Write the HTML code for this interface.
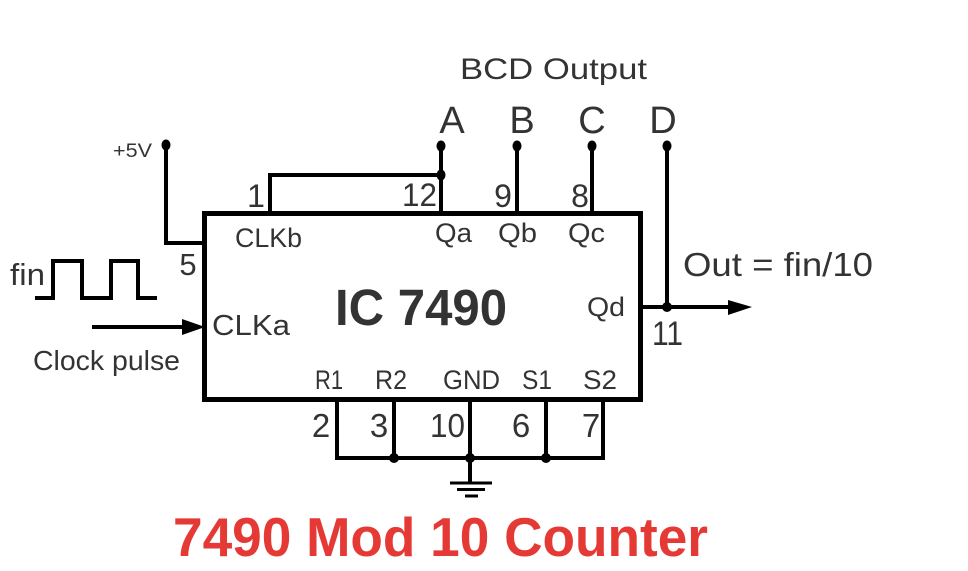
<!DOCTYPE html>
<html>
<head>
<meta charset="utf-8">
<style>
  html,body{margin:0;padding:0;background:#fff;}
  svg{display:block;}
  text{font-family:"Liberation Sans",sans-serif;fill:#333;}
</style>
</head>
<body>
<svg width="968" height="571" viewBox="0 0 968 571" xmlns="http://www.w3.org/2000/svg">
  <rect x="0" y="0" width="968" height="571" fill="#fff"/>

  <!-- IC box -->
  <rect x="204.5" y="213.5" width="436" height="186" fill="#fff" stroke="#000" stroke-width="5"/>

  <g fill="none" stroke="#000" stroke-width="4" stroke-linejoin="miter">
    <!-- +5V to pin 5 -->
    <path d="M166,145 V243 H204"/>
    <!-- pin 1 to Qa -->
    <path d="M270,212 V175 H441"/>
    <path d="M441,146 V212"/>
    <path d="M517,146 V212"/>
    <path d="M592,146 V212"/>
    <!-- D line -->
    <path d="M667,146 V307"/>
    <!-- Qd output -->
    <path d="M641,307 H735"/>
    <!-- CLKa input -->
    <path d="M92,327 H186"/>
    <!-- square wave -->
    <path d="M35,298 H53 V261 H82 V298 H111 V261 H138 V298 H157"/>
    <!-- bottom pins -->
    <path d="M337,400 V458 H603 V400"/>
    <path d="M394,400 V458"/>
    <path d="M470,400 V483"/>
    <path d="M546,400 V458"/>
  </g>

  <!-- ground -->
  <g stroke="#000" stroke-width="3">
    <line x1="450" y1="483" x2="492" y2="483"/>
    <line x1="457" y1="489.5" x2="485" y2="489.5"/>
    <line x1="465" y1="496" x2="478" y2="496"/>
  </g>

  <!-- arrowheads -->
  <polygon points="728,300 752,307 728,315" fill="#000"/>
  <polygon points="182,319 205,327 182,335" fill="#000"/>

  <!-- dots -->
  <g fill="#000">
    <ellipse cx="166" cy="145" rx="4.5" ry="5.5"/>
    <ellipse cx="441" cy="146" rx="4.5" ry="5.5"/>
    <ellipse cx="517" cy="146" rx="4.5" ry="5.5"/>
    <ellipse cx="592" cy="146" rx="4.5" ry="5.5"/>
    <ellipse cx="667" cy="146" rx="4.5" ry="5.5"/>
    <ellipse cx="441" cy="175" rx="4.5" ry="5.5"/>
    <ellipse cx="667" cy="307" rx="5" ry="5"/>
    <ellipse cx="394" cy="458" rx="5" ry="5"/>
    <ellipse cx="470" cy="458" rx="5" ry="5"/>
    <ellipse cx="546" cy="458" rx="5" ry="5"/>
  </g>

  <!-- labels -->
  <text x="113" y="157" font-size="19" textLength="39" lengthAdjust="spacingAndGlyphs">+5V</text>
  <text x="460" y="79" font-size="30" textLength="187" lengthAdjust="spacingAndGlyphs">BCD Output</text>
  <text x="452" y="133" font-size="38" text-anchor="middle">A</text>
  <text x="522" y="133" font-size="38" text-anchor="middle">B</text>
  <text x="592" y="133" font-size="38" text-anchor="middle">C</text>
  <text x="663" y="133" font-size="38" text-anchor="middle">D</text>

  <text x="256" y="207" font-size="32" text-anchor="middle">1</text>
  <text x="402" y="206" font-size="32" textLength="35" lengthAdjust="spacingAndGlyphs">12</text>
  <text x="503" y="207" font-size="32" text-anchor="middle">9</text>
  <text x="580" y="207" font-size="32" text-anchor="middle">8</text>

  <text x="235" y="247" font-size="27" textLength="67" lengthAdjust="spacingAndGlyphs">CLKb</text>
  <text x="435" y="242" font-size="27" textLength="37" lengthAdjust="spacingAndGlyphs">Qa</text>
  <text x="498" y="242" font-size="27" textLength="39" lengthAdjust="spacingAndGlyphs">Qb</text>
  <text x="568" y="242" font-size="27" textLength="37" lengthAdjust="spacingAndGlyphs">Qc</text>

  <text x="188" y="275" font-size="31" text-anchor="middle">5</text>
  <text x="10" y="285" font-size="31" textLength="35" lengthAdjust="spacingAndGlyphs">fin</text>
  <text x="212" y="335" font-size="29" textLength="78" lengthAdjust="spacingAndGlyphs">CLKa</text>
  <text x="33" y="370" font-size="28" textLength="147" lengthAdjust="spacingAndGlyphs">Clock pulse</text>

  <text x="335" y="325" font-size="51" font-weight="bold" textLength="172" lengthAdjust="spacingAndGlyphs">IC 7490</text>
  <text x="587" y="316" font-size="27" textLength="38" lengthAdjust="spacingAndGlyphs">Qd</text>

  <text x="683" y="276" font-size="33" textLength="190" lengthAdjust="spacingAndGlyphs">Out = fin/10</text>
  <text x="652" y="345" font-size="34" textLength="31" lengthAdjust="spacingAndGlyphs">11</text>

  <text x="315" y="389" font-size="27" textLength="28" lengthAdjust="spacingAndGlyphs">R1</text>
  <text x="375" y="389" font-size="27" textLength="32" lengthAdjust="spacingAndGlyphs">R2</text>
  <text x="443" y="389" font-size="27" textLength="57" lengthAdjust="spacingAndGlyphs">GND</text>
  <text x="522" y="389" font-size="27" textLength="30" lengthAdjust="spacingAndGlyphs">S1</text>
  <text x="583" y="389" font-size="27" textLength="34" lengthAdjust="spacingAndGlyphs">S2</text>

  <text x="321" y="437" font-size="33" text-anchor="middle">2</text>
  <text x="379" y="437" font-size="33" text-anchor="middle">3</text>
  <text x="430" y="437" font-size="33" textLength="35" lengthAdjust="spacingAndGlyphs">10</text>
  <text x="521" y="437" font-size="33" text-anchor="middle">6</text>
  <text x="591" y="437" font-size="33" text-anchor="middle">7</text>

  <!-- title -->
  <text x="173" y="556" font-size="55" font-weight="bold" textLength="535" lengthAdjust="spacingAndGlyphs" style="fill:#e53935">7490 Mod 10 Counter</text>
</svg>
</body>
</html>
